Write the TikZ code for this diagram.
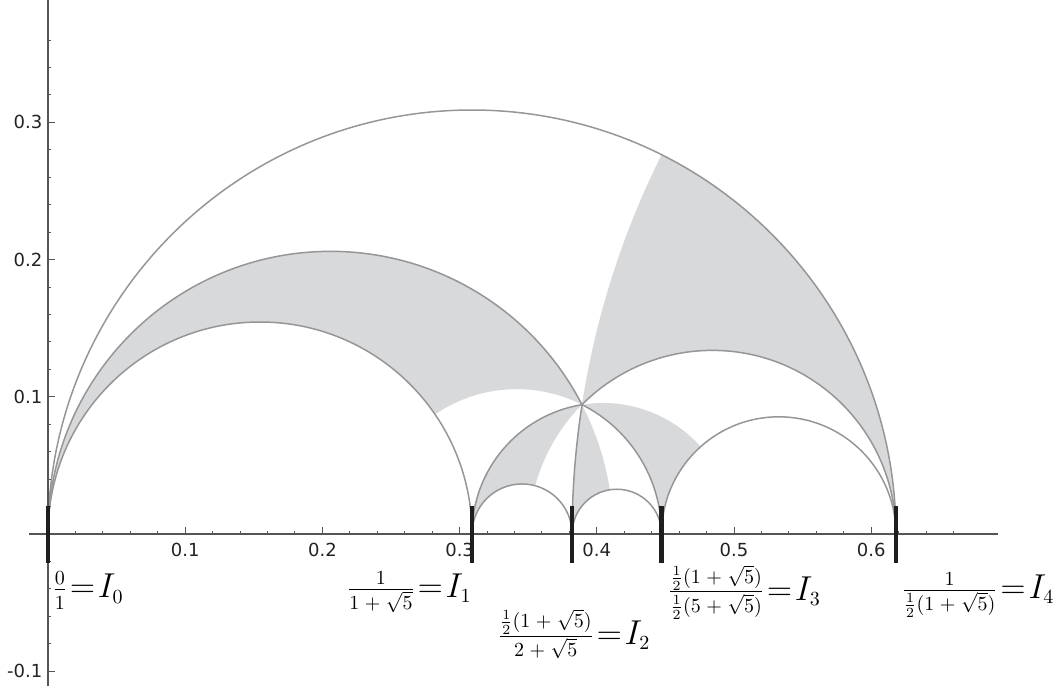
\documentclass[tikz,border=0pt]{standalone}
\usepackage{fontspec}
\newfontfamily\tickfont{DejaVu Sans}
\DeclareMathSizes{17.28}{17.28}{10}{7}
\definecolor{arcgray}{RGB}{150,150,152}
\definecolor{fillgray}{RGB}{216,217,219}
\definecolor{axisgray}{RGB}{85,85,85}
\definecolor{barblack}{RGB}{30,30,30}
\definecolor{labgray}{RGB}{35,35,35}
\newcommand{\bsp}{\mkern5mu}
\newcommand{\cusptext}[1]{$\thickmuskip=1.5mu\relax #1$}
\begin{document}
\begin{tikzpicture}[x=686pt,y=686pt,
  arcline/.style={draw=arcgray, line width=0.75pt},
  region/.style={fill=fillgray},
  cuspbar/.style={draw=barblack, line width=2.3pt},
  axisline/.style={draw=axisgray, line width=0.65pt},
  tickline/.style={draw=axisgray, line width=0.5pt},
  ticklab/.style={font=\tickfont\fontsize{9}{10}\selectfont, text=labgray, inner sep=0pt},
  cusplab/.style={font=\LARGE, inner sep=0pt}]
\useasboundingbox (-0.034985,-0.114431) rectangle (0.739067,0.389213);

% cusps and the elliptic point
\coordinate (I0) at (0,0);
\coordinate (I1) at (0.3090170,0);
\coordinate (I2) at (0.3819660,0);
\coordinate (I3) at (0.4472136,0);
\coordinate (I4) at (0.6180340,0);
\coordinate (V)  at (0.3891957,0.0942558);

% shaded triangles
\fill[region] (V) arc[start angle=27.2278, end angle=180, radius=0.2060113]
  arc[start angle=180, end angle=34.3441, radius=0.1545085]
  arc[start angle=124.3441, end angle=63.2278, radius=0.1055728] -- cycle;
\fill[region] (V) arc[start angle=171.2278, end angle=153.4349, radius=0.6180340]
  arc[start angle=63.4349, end angle=0, radius=0.3090170]
  arc[start angle=0, end angle=135.2278, radius=0.1338305] -- cycle;
\fill[region] (V) arc[start angle=99.2278, end angle=41.8103, radius=0.0954915]
  arc[start angle=131.8103, end angle=180, radius=0.0854102]
  arc[start angle=0, end angle=63.2278, radius=0.1055728] -- cycle;
\fill[region] (V) arc[start angle=27.2278, end angle=8.9986, radius=0.2060113]
  arc[start angle=98.9986, end angle=180, radius=0.0326238]
  arc[start angle=180, end angle=171.2278, radius=0.6180340] -- cycle;
\fill[region] (V) arc[start angle=135.2278, end angle=164.7547, radius=0.1338305]
  arc[start angle=74.7547, end angle=180, radius=0.0364745]
  arc[start angle=180, end angle=99.2278, radius=0.0954915] -- cycle;

% semicircles between cusps
\draw[arcline] (I4) arc[start angle=0, end angle=180, radius=0.3090170];
\draw[arcline] (I1) arc[start angle=0, end angle=180, radius=0.1545085];
\draw[arcline] (I2) arc[start angle=0, end angle=180, radius=0.0364745];
\draw[arcline] (I3) arc[start angle=0, end angle=180, radius=0.0326238];
\draw[arcline] (I4) arc[start angle=0, end angle=180, radius=0.0854102];
% geodesics from the cusps to V
\draw[arcline] (I0) arc[start angle=180, end angle=27.2278, radius=0.2060113];
\draw[arcline] (I1) arc[start angle=180, end angle=99.2278, radius=0.0954915];
\draw[arcline] (I2) arc[start angle=180, end angle=171.2278, radius=0.6180340];
\draw[arcline] (I3) arc[start angle=0, end angle=63.2278, radius=0.1055728];
\draw[arcline] (I4) arc[start angle=0, end angle=135.2278, radius=0.1338305];

% axes
\coordinate (xa) at (-0.01385,0);
\coordinate (xb) at (0.6924,0);
\coordinate (ya) at (0,-0.1108);
\coordinate (yb) at (0,0.389213);
\draw[axisline] (xa) -- (xb);
\draw[axisline] (ya) -- (yb);
\foreach \t in {0.02,0.04,0.06,0.08,0.12,0.14,0.16,0.18,0.22,0.24,0.26,0.28,0.32,0.34,0.36,0.38,0.42,0.44,0.46,0.48,0.52,0.54,0.56,0.58,0.62,0.64,0.66}
  \draw[tickline] (\t,0) -- (\t,0.0024);
\foreach \t in {0.1,0.2,0.3,0.4,0.5,0.6}
  {\draw[tickline] (\t,0) -- (\t,0.0049);
   \node[ticklab] at (\t,-0.0117) {\t};}
\foreach \t in {-0.08,-0.06,-0.04,-0.02,0.02,0.04,0.06,0.08,0.12,0.14,0.16,0.18,0.22,0.24,0.26,0.28,0.32,0.34,0.36}
  \draw[tickline] (0,\t) -- (0.0024,\t);
\foreach \t in {-0.1,0.1,0.2,0.3}
  {\draw[tickline] (0,\t) -- (0.0049,\t);
   \node[ticklab, anchor=east] at (-0.0039,\t) {\t};}

% cusp bars
\foreach \c in {I0,I1,I2,I3,I4}
  \draw[cuspbar] ([yshift=-0.0211*686pt]\c) -- ([yshift=0.0204*686pt]\c);

% cusp labels
\node[cusplab, anchor=base west] (L0) at (0.0029,-0.0466) {\cusptext{\frac{0}{1}=I_0}};
\node[cusplab, anchor=base east] (L1) at (0.3090,-0.0464) {\cusptext{\frac{1}{1\bsp+\bsp\sqrt{5}}=I_1}};
\node[cusplab, anchor=base west] (L2) at (0.3273,-0.0806) {\cusptext{\frac{\frac{1}{2}(1\bsp+\bsp\sqrt{5})}{2\bsp+\bsp\sqrt{5}}=I_2}};
\node[cusplab, anchor=base west] (L3) at (0.4515,-0.0485) {\cusptext{\frac{\frac{1}{2}(1\bsp+\bsp\sqrt{5})}{\frac{1}{2}(5\bsp+\bsp\sqrt{5})}=I_3}};
\node[cusplab, anchor=base west] (L4) at (0.6217,-0.0471) {\cusptext{\frac{1}{\frac{1}{2}(1\bsp+\bsp\sqrt{5})}=I_4}};
\end{tikzpicture}
\end{document}
